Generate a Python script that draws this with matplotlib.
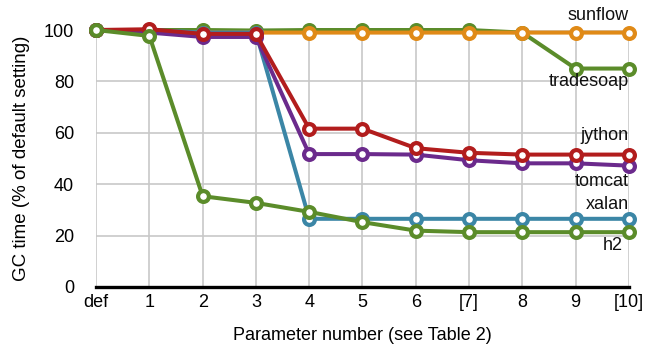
import matplotlib
matplotlib.use("Agg")
import matplotlib.pyplot as plt

plt.rcParams['font.family'] = ['Liberation Sans', 'DejaVu Sans']

tick_labels = ["def", "1", "2", "3", "4", "5", "6", "[7]", "8", "9", "[10]"]
tradesoap = [100, 100, 100, 99.8, 100, 100, 100, 100, 99, 85, 85]
sunflow = [100, 99, 99, 99, 99, 99, 99, 99, 99, 99, 99]
xalan = [100, 100, 99, 99, 26.5, 26.5, 26.5, 26.5, 26.5, 26.5, 26.5]
tomcat = [100, 99, 97.3, 97.3, 51.7, 51.7, 51.5, 49.3, 48.1, 48.1, 47.2]
jython = [100, 100.3, 98.5, 98.5, 61.6, 61.6, 54, 52.2, 51.5, 51.5, 51.5]
h2 = [100, 97.7, 35.3, 32.7, 29.2, 25.2, 21.9, 21.3, 21.3, 21.3, 21.3]

series = [
    ("tradesoap", tradesoap, "#5b8c2a", (10, 80.0)),
    ("sunflow", sunflow, "#e08a17", (10, 105.6)),
    ("xalan", xalan, "#3b86a6", (10, 31.9)),
    ("tomcat", tomcat, "#6b2a8c", (10, 40.9)),
    ("jython", jython, "#b21d1d", (10, 58.8)),
    ("h2", h2, "#5b8c2a", (9.88, 16.3)),
]

fig = plt.figure(figsize=(6.45, 3.49), dpi=100)
ax = fig.add_axes([0.149, 0.178, 0.826, 0.736])
x = list(range(len(tick_labels)))
for i, (name, vals, col, pos) in enumerate(series):
    ax.plot(x, vals, color=col, lw=2.9, marker='o', ms=7.8, mfc='white',
            mec=col, mew=3.0, clip_on=False, zorder=3 + i)
    ax.text(pos[0], pos[1], name, ha='right', va='center', fontsize=13,
            color='#111111', zorder=20)

ax.set_xlim(0, 10)
ax.set_ylim(0, 100)
ax.set_xticks(x)
ax.set_xticklabels(tick_labels)
ax.set_yticks([0, 20, 40, 60, 80, 100])
ax.grid(True, color='#c8c8c8', lw=1.2)
ax.set_axisbelow(True)
for s in ['top', 'right', 'left']:
    ax.spines[s].set_visible(False)
ax.spines['bottom'].set_linewidth(2.4)
ax.spines['bottom'].set_color('black')
ax.spines['bottom'].set_zorder(30)
ax.tick_params(axis='x', length=0, labelsize=13, pad=5)
ax.tick_params(axis='y', length=0, labelsize=13, pad=16)
ax.set_xlabel("Parameter number (see Table 2)", fontsize=13, labelpad=12)
ax.set_ylabel("GC time (% of default setting)", fontsize=13.5, labelpad=10)
fig.savefig("out.png", dpi=100)
